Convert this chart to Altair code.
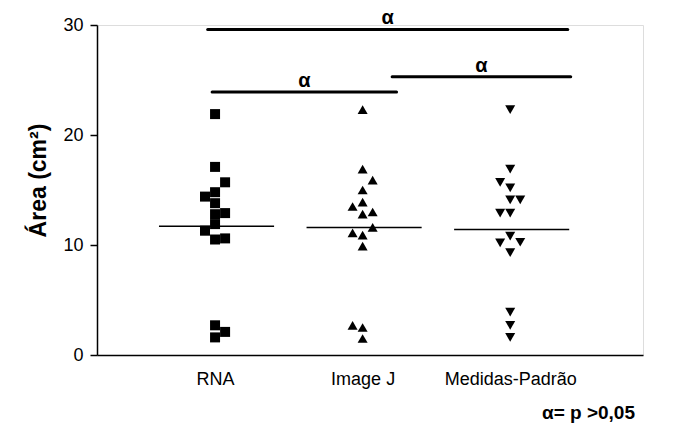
import altair as alt
import pandas as pd

categories = ["RNA", "Image J", "Medidas-Padrão"]
shapes = ["square", "triangle-up", "triangle-down"]

rna = [21.9, 17.1, 15.7, 14.8, 14.4, 13.8, 12.8, 12.9, 11.9, 11.3, 10.5, 10.6, 2.7, 2.1, 1.6]
rna_jit = [0, 0, 1, 0, -1, 0, 0, 1, 0, -1, 0, 1, 0, 1, 0]
imagej = [22.3, 16.9, 15.9, 15.0, 13.9, 13.5, 12.8, 13.0, 11.6, 11.1, 10.9, 9.9, 2.7, 2.5, 1.5]
imagej_jit = [0, 0, 1, 0, 0, -1, 0, 1, 1, -1, 0, 0, -1, 0, 0]
medidas = [22.3, 16.9, 15.7, 15.2, 14.1, 14.1, 12.9, 12.9, 10.8, 10.2, 10.25, 9.3, 3.9, 2.7, 1.6]
medidas_jit = [0, 0, -1, 0, 0, 1, -1, 0, 0, -1, 1, 0, 0, 0, 0]

medians = [11.7, 11.6, 11.4]

# significance bars (category-index units) and their labels
bar_start = [0.95, 0.98, 2.20]
bar_end = [3.39, 2.23, 3.41]
bar_y = [29.6, 23.9, 25.3]
bar_label = ["α", "α", "α"]

y_ticks = [0, 10, 20, 30]

rows = []
for i, (vals, jit) in enumerate([(rna, rna_jit), (imagej, imagej_jit), (medidas, medidas_jit)]):
    for v, j in zip(vals, jit):
        rows.append({"group": categories[i], "idx": i + 1, "value": v, "jitter": j})
df = pd.DataFrame(rows)

df_med = pd.DataFrame({"group": categories, "idx": [1, 2, 3], "median": medians})
df_bar = pd.DataFrame({"x1": bar_start, "x2": bar_end, "y": bar_y, "label": bar_label})

FONT = "Liberation Sans"
x_scale = alt.Scale(domain=[0.2, 3.9], nice=False, zero=False)
y_scale = alt.Scale(domain=[0, 30], nice=False)

label_expr = " : ".join(
    [f"datum.value == {i + 1} ? '{c}'" for i, c in enumerate(categories)]
) + " : ''"

x_axis = alt.Axis(
    values=[1, 2, 3], labelExpr=label_expr, title=None, grid=False, ticks=False,
    domainColor="black", domainWidth=1.5, labelFontSize=18, labelPadding=15,
    labelColor="black", labelFont=FONT,
)
y_axis = alt.Axis(
    values=y_ticks, title="Área (cm²)", grid=False, tickSize=7, tickColor="black",
    tickWidth=1.5, domainColor="black", domainWidth=1.5, labelFontSize=18,
    labelPadding=7, labelColor="black", labelFont=FONT, titleFont=FONT,
    titleFontSize=23, titleFontWeight="bold", titleColor="black", titlePadding=12,
    titleY=155,
)

points = alt.Chart(df).transform_calculate(
    xpos="datum.idx + datum.jitter * 0.068"
).mark_point(filled=True, opacity=1, color="black", size=100).encode(
    x=alt.X("xpos:Q", scale=x_scale, axis=x_axis),
    y=alt.Y("value:Q", scale=y_scale, axis=y_axis),
    shape=alt.Shape("group:N", scale=alt.Scale(domain=categories, range=shapes), legend=None),
)

med = alt.Chart(df_med).transform_calculate(
    xa="datum.idx - 0.38", xb="datum.idx + 0.40"
).mark_rule(color="black", strokeWidth=1.5).encode(
    x=alt.X("xa:Q", scale=x_scale),
    x2="xb:Q",
    y=alt.Y("median:Q", scale=y_scale),
)

bars = alt.Chart(df_bar).mark_rule(color="black", strokeWidth=3, strokeCap="round").encode(
    x=alt.X("x1:Q", scale=x_scale),
    x2="x2:Q",
    y=alt.Y("y:Q", scale=y_scale),
)

labels = alt.Chart(df_bar).transform_calculate(
    xm="(datum.x1 + datum.x2) / 2"
).mark_text(font=FONT, fontSize=20, fontWeight="bold", baseline="bottom", dy=-1, color="black").encode(
    x=alt.X("xm:Q", scale=x_scale),
    y=alt.Y("y:Q", scale=y_scale),
    text="label:N",
)

chart = alt.layer(points, med, bars, labels).properties(
    width=546, height=330,
    title=alt.TitleParams(
        text="α= p >0,05", orient="bottom", anchor="end", font=FONT, fontSize=19,
        fontWeight="bold", color="black", offset=16, dx=-8,
    ),
    autosize=alt.AutoSizeParams(type="none"),
    padding={"left": 97, "top": 25, "right": 43, "bottom": 80},
).configure_view(stroke=None).configure(background="white")

chart.save("out.html", embed_options={"renderer": "svg", "actions": False})
